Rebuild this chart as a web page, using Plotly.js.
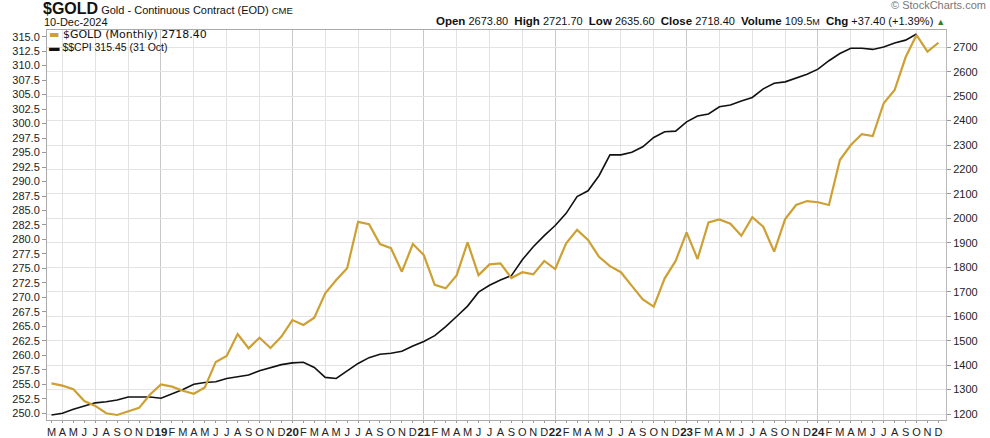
<!DOCTYPE html>
<html>
<head>
<meta charset="utf-8">
<script src="https://cdn.plot.ly/plotly-3.0.1.min.js"></script>
<style>
  body { margin: 0; background: #fff; }
  #chart { width: 990px; height: 438px; }
</style>
</head>
<body>
<div id="chart"></div>
<script>
// month letters for the bottom axis, Jan is replaced by the year
const monthLetters = ['J', 'F', 'M', 'A', 'M', 'J', 'J', 'A', 'S', 'O', 'N', 'D'];
const startYear = 2018;
const startMonth = 2; // March 2018 is the first bar

// $GOLD monthly close, Mar 2018 .. Dec 2024
const goldClose = [
    1325, 1316, 1301, 1253, 1233, 1203, 1196, 1212, 1225, 1280,
    1321, 1312, 1295, 1283, 1309, 1413, 1437, 1527, 1469, 1512, 1470, 1517,
    1584, 1564, 1594, 1694, 1748, 1796, 1986, 1976, 1895, 1878, 1782, 1895,
    1850, 1728, 1714, 1767, 1902, 1768, 1812, 1816, 1756, 1780, 1771, 1826,
    1793, 1898, 1953, 1912, 1843, 1805, 1780, 1724, 1669, 1639, 1755, 1826,
    1943, 1834, 1984, 1996, 1978, 1929, 2005, 1966, 1864, 1997, 2055, 2071,
    2066, 2055, 2239, 2300, 2345, 2337, 2471, 2525, 2659, 2750, 2682, 2718.4
];

// $$CPI, Mar 2018 .. Oct 2024
const cpiValues = [
    249.7, 250.0, 250.7, 251.3, 251.8, 252.0, 252.3, 252.8, 252.8, 252.8,
    252.6, 253.3, 254.1, 255.0, 255.3, 255.45, 256.0, 256.3, 256.6, 257.35, 257.9, 258.4,
    258.7, 258.8, 257.9, 256.2, 256.0, 257.35, 258.6, 259.6, 260.2, 260.35, 260.7, 261.6,
    262.4, 263.4, 264.95, 266.7, 268.5, 270.9, 272.1, 273.0, 273.75, 276.5, 278.75, 280.65,
    282.4, 284.5, 287.4, 288.4, 291.0, 294.6, 294.6, 295.05, 296.0, 297.6, 298.6, 298.7,
    300.3, 301.3, 301.65, 302.9, 303.2, 303.9, 304.5, 306.0, 306.95, 307.2, 307.8, 308.5,
    309.4, 310.85, 312.1, 313.0, 313.0, 312.8, 313.2, 313.9, 314.4, 315.45
];

const goldColor = '#CDA033';
const fontSans = 'Liberation Sans, Arial, sans-serif';

// build bar index, tick labels and grid positions
let tickVals = [], tickText = [], janVals = [], quarterVals = [];
for (let i = 0; i < goldClose.length; i++) {
    let m = (startMonth + i) % 12;
    let yr = startYear + Math.floor((startMonth + i) / 12);
    tickVals.push(i);
    if (m === 0) {
        tickText.push('<span style="font-weight:bold;font-size:11.5px">' + String(yr % 100) + '</span>');
        janVals.push(i);
    } else {
        tickText.push(monthLetters[m]);
        if (m % 3 === 0) quarterVals.push(i);
    }
}

const margin = {l: 47, r: 44, t: 30, b: 18};
const W = 990 - margin.l - margin.r;
const H = 438 - margin.t - margin.b;
function px(x) { return (x - margin.l) / W; }
function py(y) { return 1 - (y - margin.t) / H; }

const xRange = [-0.41, 81.69];

let traceCpi = {
    x: cpiValues.map((v, i) => i),
    y: cpiValues,
    type: 'scatter',
    mode: 'lines',
    line: {color: '#111', width: 1.6},
    xaxis: 'x',
    yaxis: 'y',
    hoverinfo: 'skip'
};

let traceGold = {
    x: goldClose.map((v, i) => i),
    y: goldClose,
    type: 'scatter',
    mode: 'lines',
    line: {color: goldColor, width: 2.2},
    xaxis: 'x2',
    yaxis: 'y2',
    hoverinfo: 'skip'
};

function note(text, x, y, anchor, font) {
    return {
        text: text, x: px(x), y: py(y), xref: 'paper', yref: 'paper',
        xanchor: anchor, yanchor: 'middle', showarrow: false, font: font, borderpad: 0
    };
}

function bold(t) { return '<span style="font-weight:bold;font-size:11.5px">' + t + '</span>'; }

let annotations = [
    note('<span style="font-weight:bold;font-size:16px">$GOLD</span> Gold - Continuous Contract (EOD) <span style="font-size:9.5px">CME</span>',
        42, 9, 'left', {family: fontSans, size: 11, color: '#111'}),
    note('10-Dec-2024', 43, 22, 'left', {family: fontSans, size: 11, color: '#111'}),
    note('© StockCharts.com', 987, 5, 'right', {family: fontSans, size: 11, color: '#777'}),
    note(bold('Open') + ' 2673.80  ' + bold('High') + ' 2721.70  ' + bold('Low') + ' 2635.60  ' +
        bold('Close') + ' 2718.40  ' + bold('Volume') + ' 109.5<span style="font-size:9px">M</span>  ' +
        bold('Chg') + ' +37.40 (+1.39%) <span style="color:#2e7d32;font-size:9px">▲</span>',
        946, 21, 'right', {family: fontSans, size: 11, color: '#111'}),
    // legend
    note('<span style="color:' + goldColor + '">▬</span> $GOLD (Monthly) 2718.40', 48, 35, 'left',
        {family: 'DejaVu Sans, Verdana, sans-serif', size: 11, color: '#111'}),
    note('▬ $$CPI 315.45 (31 Oct)', 48, 47, 'left', {family: fontSans, size: 10.5, color: '#111'})
];

let layout = {
    width: 990,
    height: 438,
    margin: margin,
    paper_bgcolor: '#fff',
    plot_bgcolor: '#fff',
    showlegend: false,
    font: {family: fontSans, size: 11, color: '#222'},
    xaxis: {
        range: xRange,
        tickmode: 'array',
        tickvals: tickVals,
        ticktext: tickText,
        tickangle: 0,
        ticks: 'outside',
        ticklen: 2,
        tickcolor: '#999',
        showgrid: false,
        zeroline: false,
        showline: true,
        mirror: true,
        linecolor: '#aaa',
        tickfont: {family: fontSans, size: 11, color: '#222'},
        fixedrange: true
    },
    xaxis2: {
        range: xRange,
        overlaying: 'x',
        anchor: 'y2',
        tickmode: 'array',
        tickvals: janVals,
        showticklabels: false,
        ticks: '',
        showgrid: true,
        gridcolor: '#c8c8c8',
        zeroline: false,
        minor: {tickmode: 'array', tickvals: quarterVals, showgrid: true, gridcolor: '#e2e2e2', ticks: ''},
        fixedrange: true
    },
    yaxis: {
        range: [248.84, 316.15],
        tickmode: 'linear',
        tick0: 250,
        dtick: 2.5,
        tickformat: '.1f',
        ticks: 'outside',
        ticklen: 4,
        tickcolor: '#999',
        showgrid: false,
        zeroline: false,
        showline: true,
        linecolor: '#aaa',
        tickfont: {family: fontSans, size: 11, color: '#222'},
        fixedrange: true
    },
    yaxis2: {
        range: [1175.5, 2770.6],
        overlaying: 'y',
        anchor: 'x2',
        side: 'right',
        tickmode: 'linear',
        tick0: 1200,
        dtick: 100,
        ticks: 'outside',
        ticklen: 4,
        tickcolor: '#999',
        showgrid: true,
        gridcolor: '#e3e3e3',
        zeroline: false,
        showline: true,
        linecolor: '#bbb',
        tickfont: {family: fontSans, size: 11, color: '#222'},
        fixedrange: true
    },
    annotations: annotations
};

Plotly.newPlot('chart', [traceCpi, traceGold], layout, {displayModeBar: false});
</script>
</body>
</html>
